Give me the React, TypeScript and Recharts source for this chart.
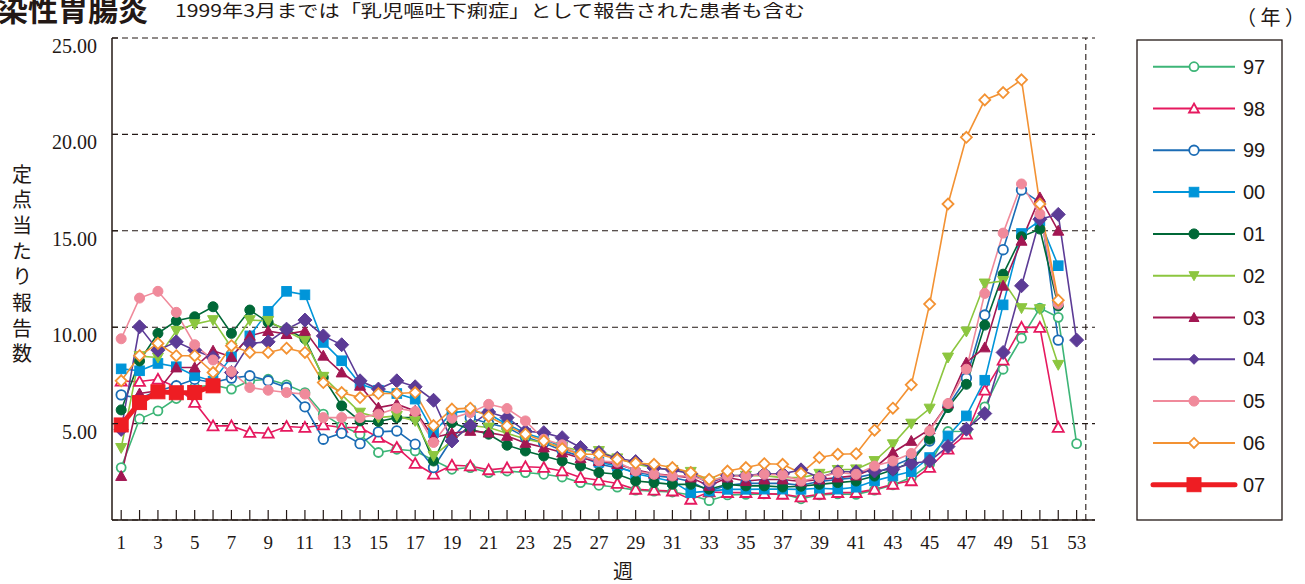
import React from 'react';
import { LineChart, Line, XAxis, YAxis, CartesianGrid, ReferenceLine } from 'recharts';

const weeks = [
  1, 2, 3, 4, 5, 6, 7, 8, 9, 10, 11, 12, 13, 14, 15, 16, 17, 18, 19, 20, 21, 22, 23, 24, 25, 26,
  27, 28, 29, 30, 31, 32, 33, 34, 35, 36, 37, 38, 39, 40, 41, 42, 43, 44, 45, 46, 47, 48, 49, 50, 51, 52, 53,
];
const weekTicks = weeks;
const yTicks = [5, 10, 15, 20, 25];

const y97 = [2.72, 5.24, 5.66, 6.3, 6.9, 7.0, 6.79, 7.22, 7.3, 7.01, 6.61, 5.49, 4.88, 4.45, 3.5, 3.67, 3.58, 3.1, 2.63, 2.72, 2.46, 2.54, 2.46, 2.37, 2.23, 1.94, 1.8, 1.7, 1.55, 1.5, 1.45, 1.3, 1.0, 1.3, 1.33, 1.35, 1.35, 1.1, 1.3, 1.35, 1.33, 1.55, 1.82, 2.2, 2.9, 4.59, 4.6, 5.87, 7.82, 9.43, 10.99, 10.51, 3.96];
const y98 = [7.2, 7.18, 7.3, 6.9, 6.1, 4.88, 4.88, 4.54, 4.5, 4.85, 4.8, 4.93, 4.8, 4.8, 4.28, 3.76, 2.93, 2.37, 2.84, 2.8, 2.6, 2.7, 2.76, 2.72, 2.54, 2.2, 2.06, 1.89, 1.59, 1.54, 1.5, 1.07, 1.45, 1.42, 1.42, 1.37, 1.33, 1.19, 1.33, 1.42, 1.42, 1.59, 1.85, 2.03, 2.72, 3.67, 4.45, 6.73, 8.29, 9.99, 9.99, 4.8];
const y99 = [6.49, 6.3, 6.7, 6.96, 7.3, 7.13, 7.36, 7.48, 7.22, 6.87, 5.87, 4.19, 4.5, 3.96, 4.57, 4.62, 3.93, 2.72, 4.2, 5.3, 5.0, 4.8, 4.3, 4.0, 3.6, 3.3, 2.9, 2.7, 2.5, 2.3, 2.2, 2.0, 1.5, 1.8, 1.9, 1.9, 1.9, 1.8, 2.0, 2.1, 2.2, 2.4, 2.8, 3.2, 4.1, 5.9, 7.36, 10.63, 14.02, 17.12, 16.47, 9.33];
const y00 = [7.84, 7.74, 8.12, 7.95, 7.48, 7.2, 8.46, 9.55, 10.82, 11.86, 11.68, 9.21, 8.26, 7.05, 6.73, 6.56, 6.27, 4.54, 5.57, 5.66, 5.5, 4.97, 4.5, 4.2, 3.8, 3.4, 3.0, 2.8, 2.4, 2.2, 2.0, 1.42, 1.5, 1.59, 1.59, 1.6, 1.6, 1.59, 1.65, 1.6, 1.7, 2.03, 2.28, 2.51, 3.24, 4.36, 5.4, 7.25, 11.16, 14.86, 15.52, 13.19];
const y01 = [5.71, 8.25, 9.68, 10.33, 10.54, 11.06, 9.68, 10.89, 10.25, 9.9, 9.4, 7.39, 5.92, 5.14, 5.11, 5.31, 5.31, 3.06, 5.05, 4.71, 4.45, 3.88, 3.58, 3.32, 3.06, 2.8, 2.46, 2.37, 2.02, 1.94, 1.85, 1.85, 1.6, 1.85, 1.77, 1.77, 1.71, 1.75, 1.85, 1.94, 2.02, 2.28, 2.6, 3.0, 4.19, 5.83, 7.04, 10.11, 12.75, 14.69, 15.09, 11.1];
const y02 = [3.74, 8.5, 8.43, 9.81, 10.16, 10.37, 8.95, 10.37, 10.33, 9.8, 9.3, 7.43, 6.5, 5.57, 5.31, 5.4, 5.14, 3.32, 4.1, 4.9, 4.8, 4.5, 4.2, 4.0, 3.8, 3.6, 3.58, 3.2, 2.9, 2.7, 2.6, 2.5, 2.0, 2.3, 2.3, 2.3, 2.2, 2.2, 2.4, 2.6, 2.63, 3.06, 3.93, 5.0, 5.78, 8.43, 9.78, 12.27, 12.4, 10.99, 10.94, 8.05];
const y03 = [2.28, 6.56, 6.7, 7.91, 7.91, 8.78, 8.46, 9.55, 9.8, 9.64, 9.81, 8.52, 7.65, 6.96, 5.83, 6.01, 5.66, 4.28, 4.5, 4.62, 4.53, 4.36, 4.0, 3.76, 3.5, 3.2, 3.06, 2.9, 2.6, 2.4, 2.3, 2.2, 1.77, 2.2, 2.02, 2.1, 2.1, 2.0, 2.1, 2.2, 2.3, 2.7, 3.5, 4.1, 4.7, 6.04, 8.17, 8.95, 12.15, 14.48, 16.73, 15.0];
const y04 = [4.7, 10.02, 8.81, 9.24, 8.81, 8.43, 7.65, 9.16, 9.24, 9.9, 10.37, 9.55, 9.09, 7.22, 6.79, 7.22, 6.91, 6.21, 4.1, 4.9, 5.6, 5.31, 4.6, 4.53, 4.27, 3.76, 3.5, 3.2, 3.03, 2.7, 2.6, 2.4, 1.9, 2.3, 2.3, 2.4, 2.4, 2.6, 2.2, 2.5, 2.5, 2.54, 2.63, 2.93, 3.06, 3.81, 4.71, 5.52, 8.69, 12.15, 15.6, 15.85, 9.33];
const y05 = [9.4, 11.51, 11.86, 10.77, 9.09, 8.3, 7.7, 6.87, 6.73, 6.61, 6.53, 5.31, 5.31, 5.31, 5.49, 5.8, 5.63, 4.02, 5.28, 5.57, 6.0, 5.78, 5.14, 4.19, 3.9, 3.32, 3.06, 3.0, 2.54, 2.37, 2.28, 2.28, 2.0, 2.28, 2.28, 2.37, 2.34, 2.02, 2.2, 2.46, 2.37, 2.8, 3.06, 3.45, 4.62, 6.04, 7.82, 11.75, 14.88, 17.43, 15.87, 11.2];
const y06 = [7.22, 8.52, 9.16, 8.52, 8.52, 7.65, 9.04, 8.69, 8.69, 8.91, 8.69, 7.13, 6.61, 6.35, 6.56, 6.56, 6.61, 4.9, 5.75, 5.8, 5.37, 4.88, 4.45, 4.1, 3.7, 3.41, 3.41, 3.15, 2.95, 2.89, 2.72, 2.46, 2.11, 2.54, 2.72, 2.92, 2.89, 2.42, 3.24, 3.41, 3.44, 4.66, 5.8, 7.01, 11.2, 16.39, 19.85, 21.79, 22.17, 22.83, 16.39, 11.4];
const y07 = [4.93, 6.09, 6.65, 6.6, 6.61, 6.96];

type Shape = 'circle' | 'square' | 'triangle' | 'triangleDown' | 'diamond';

const series: { key: string; label: string; values: number[]; color: string; shape: Shape; filled: boolean; size: number; width: number }[] = [
  { key: 'y97', label: '97', values: y97, color: '#3DB577', shape: 'circle', filled: false, size: 4.5, width: 1.6 },
  { key: 'y98', label: '98', values: y98, color: '#E6195F', shape: 'triangle', filled: false, size: 5.5, width: 1.6 },
  { key: 'y99', label: '99', values: y99, color: '#1B6CB5', shape: 'circle', filled: false, size: 4.8, width: 1.6 },
  { key: 'y00', label: '00', values: y00, color: '#0095D9', shape: 'square', filled: true, size: 4.8, width: 1.6 },
  { key: 'y01', label: '01', values: y01, color: '#006837', shape: 'circle', filled: true, size: 5, width: 1.6 },
  { key: 'y02', label: '02', values: y02, color: '#8CC63F', shape: 'triangleDown', filled: true, size: 5.5, width: 1.6 },
  { key: 'y03', label: '03', values: y03, color: '#A21752', shape: 'triangle', filled: true, size: 5.5, width: 1.6 },
  { key: 'y04', label: '04', values: y04, color: '#5C3B96', shape: 'diamond', filled: true, size: 7, width: 1.6 },
  { key: 'y05', label: '05', values: y05, color: '#F08A9B', shape: 'circle', filled: true, size: 5, width: 1.6 },
  { key: 'y06', label: '06', values: y06, color: '#F39233', shape: 'diamond', filled: false, size: 5.5, width: 1.6 },
  { key: 'y07', label: '07', values: y07, color: '#EE1D23', shape: 'square', filled: true, size: 7, width: 5 },
];

const data = weeks.map((w, i) => {
  const row: any = { week: w };
  series.forEach((s) => {
    row[s.key] = i < s.values.length ? s.values[i] : null;
  });
  return row;
});

const JP = '"Noto Sans CJK JP", "Noto Sans", sans-serif';
const SERIF = '"Liberation Serif", "DejaVu Serif", serif';
const SANS = '"Liberation Sans", Arial, sans-serif';
const INK = '#231815';

function Marker({ cx, cy, shape, color, filled, size }: { cx: number; cy: number; shape: Shape; color: string; filled: boolean; size: number }) {
  if (cx == null || cy == null || isNaN(cx) || isNaN(cy)) return <g />;
  const fill = filled ? color : '#fff';
  const sw = filled ? 1 : 1.8;
  const s = size;
  if (shape === 'circle') return <circle cx={cx} cy={cy} r={s} fill={fill} stroke={color} strokeWidth={sw} />;
  if (shape === 'square') return <rect x={cx - s} y={cy - s} width={2 * s} height={2 * s} fill={fill} stroke={color} strokeWidth={sw} />;
  if (shape === 'diamond')
    return <polygon points={`${cx},${cy - s} ${cx + s},${cy} ${cx},${cy + s} ${cx - s},${cy}`} fill={fill} stroke={color} strokeWidth={sw} />;
  if (shape === 'triangleDown')
    return <polygon points={`${cx - s},${cy - s * 0.8} ${cx + s},${cy - s * 0.8} ${cx},${cy + s}`} fill={fill} stroke={color} strokeWidth={sw} />;
  return <polygon points={`${cx},${cy - s} ${cx + s},${cy + s * 0.8} ${cx - s},${cy + s * 0.8}`} fill={fill} stroke={color} strokeWidth={sw} />;
}

function XTick(props: any) {
  const { x, y, payload } = props;
  const w = payload.value;
  return (
    <g>
      <line x1={x} y1={y} x2={x} y2={y - 10} stroke={INK} strokeWidth={1.2} />
      {w % 2 === 1 ? (
        <text x={x} y={y + 22} textAnchor="middle" dominantBaseline="central" fontFamily={SERIF} fontSize={19} fill={INK}>
          {w}
        </text>
      ) : null}
    </g>
  );
}

function YTick(props: any) {
  const { x, y, payload } = props;
  return (
    <g>
      <line x1={x} y1={y} x2={x + 6} y2={y} stroke={INK} strokeWidth={1.2} />
      <text x={x - 15} y={y + 8} textAnchor="end" dominantBaseline="central" fontFamily={SERIF} fontSize={20} fill={INK}>
        {Number(payload.value).toFixed(2)}
      </text>
    </g>
  );
}

export default function App() {
  const legendTop = 66.7;
  const legendStep = 41.8;
  return (
    <div style={{ position: 'absolute', left: 0, top: 0, width: 1305, height: 584, background: '#fff', overflow: 'hidden' }}>
      <LineChart width={1305} height={584} data={data} margin={{ top: 38, right: 210, bottom: 0, left: 0 }}>
        <CartesianGrid vertical={false} stroke={INK} strokeDasharray="6 4" strokeWidth={1.1} />
        <XAxis
          dataKey="week"
          type="number"
          domain={[0.5, 53.5]}
          ticks={weekTicks}
          interval={0}
          height={64}
          tickSize={0}
          tickMargin={0}
          tick={<XTick />}
          axisLine={{ stroke: INK, strokeWidth: 1.5 }}
          tickLine={false}
          allowDecimals={false}
        />
        <YAxis
          type="number"
          domain={[0, 25]}
          ticks={yTicks}
          width={112}
          tickSize={0}
          tickMargin={0}
          tick={<YTick />}
          axisLine={{ stroke: INK, strokeWidth: 1.5 }}
          tickLine={false}
        />
        <ReferenceLine x={53.5} stroke={INK} strokeDasharray="6 4" strokeWidth={1.1} />
        {series.map((s) => (
          <Line
            key={s.key}
            dataKey={s.key}
            type="linear"
            stroke={s.color}
            strokeWidth={s.width}
            isAnimationActive={false}
            connectNulls={false}
            dot={(p: any) => (
              <Marker key={`${s.key}-${p.index}`} cx={p.cx} cy={p.cy} shape={s.shape} color={s.color} filled={s.filled} size={s.size} />
            )}
            activeDot={false}
          />
        ))}
      </LineChart>

      <svg width={1305} height={584} style={{ position: 'absolute', left: 0, top: 0, pointerEvents: 'none' }}>
        <text x={-32} y={21} fontFamily={JP} fontWeight={700} fontSize={30} fill={INK}>
          感染性胃腸炎
        </text>
        <text x={175} y={17} fontFamily={JP} fontSize={17} fill={INK} textLength={630} lengthAdjust="spacingAndGlyphs">
          1999年3月までは「乳児嘔吐下痢症」として報告された患者も含む
        </text>
        <text x={1236} y={25} fontFamily={JP} fontSize={20} fill={INK}>
          （ 年 ）
        </text>
        <text x={22} y={164} writingMode="tb" style={{ writingMode: 'vertical-rl', letterSpacing: '5.7px' }} fontFamily={JP} fontSize={20} fill={INK}>
          定点当たり報告数
        </text>
        <text x={623} y={570} textAnchor="middle" dominantBaseline="central" fontFamily={JP} fontSize={20} fill={INK}>
          週
        </text>

        <rect x={1137} y={40} width={145} height={480} fill="none" stroke={INK} strokeWidth={1.3} />
        {series.map((s, i) => {
          const cy = legendTop + i * legendStep;
          const big = s.key === 'y07';
          return (
            <g key={s.key}>
              <line x1={1153} y1={cy} x2={1235} y2={cy} stroke={s.color} strokeWidth={big ? 5 : 2} strokeLinecap={big ? 'round' : 'butt'} />
              <Marker cx={1194} cy={cy} shape={s.shape} color={s.color} filled={s.filled} size={big ? 7 : Math.min(s.size, 5)} />
              <text x={1243} y={cy} dominantBaseline="central" fontFamily={SANS} fontSize={20} fill={INK}>
                {s.label}
              </text>
            </g>
          );
        })}
      </svg>
    </div>
  );
}
